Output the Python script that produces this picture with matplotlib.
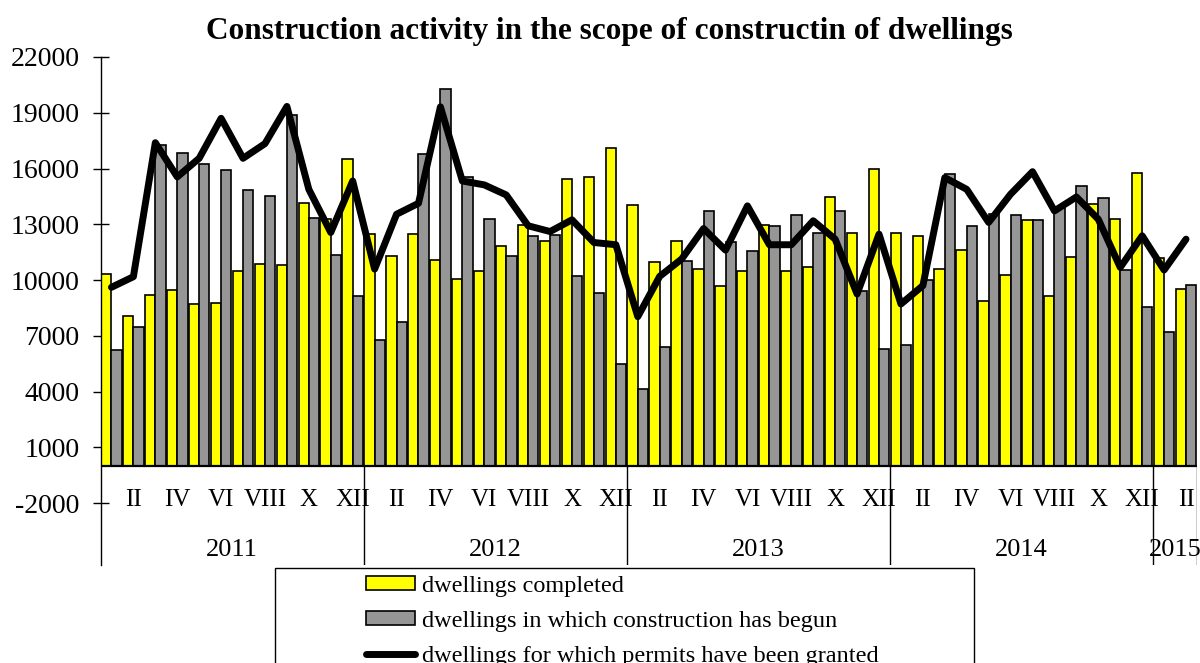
"""
Construction activity - dwellings completed / begun / permits, monthly 2011-2015
"""

import numpy as np
import matplotlib.pyplot as plt
from matplotlib.patches import Patch, Rectangle
from matplotlib.lines import Line2D

# monthly values, Jan 2011 .. Feb 2015
completed = [10300, 8050, 9180, 9460, 8730, 8780, 10500, 10860, 10820, 14150, 13300, 16500,
             12470, 11270, 12470, 11070, 10040, 10470, 11810, 12950, 12110, 15420, 15550, 17090,
             14030, 10950, 12110, 10570, 9660, 10470, 12950, 10470, 10680, 14470, 12520, 15960,
             12520, 12380, 10570, 11630, 8890, 10270, 13220, 9160, 11250, 14080, 13270, 15740,
             11180, 9520]
begun = [6240, 7460, 17250, 16820, 16260, 15900, 14850, 14530, 18870, 13360, 11340, 9120,
         6750, 7760, 16800, 20300, 15550, 13310, 11270, 12380, 12430, 10230, 9300, 5490,
         4150, 6420, 11000, 13720, 12060, 11580, 12920, 13490, 12510, 13720, 9390, 6300,
         6480, 10020, 15690, 12920, 13540, 13510, 13220, 13900, 15060, 14440, 10540, 8530,
         7190, 9730]
permits = [9610, 10180, 17390, 15550, 16550, 18700, 16550, 17340, 19340, 14880, 12560, 15330,
           10590, 13540, 14130, 19320, 15330, 15120, 14580, 12920, 12610, 13240, 12020, 11900,
           8030, 10200, 11130, 12770, 11610, 13990, 11900, 11900, 13190, 12200, 9250, 12470,
           8710, 9700, 15510, 14880, 13100, 14620, 15830, 13720, 14470, 13270, 10680, 12380,
           10540, 12200]

roman = ['I', 'II', 'III', 'IV', 'V', 'VI', 'VII', 'VIII', 'IX', 'X', 'XI', 'XII']
years = ['2011', '2012', '2013', '2014', '2015']
yticks = list(range(-2000, 22001, 3000))

labels = ["dwellings completed",
          "dwellings in which construction has begun",
          "dwellings for which permits have been granted"]

plt.rcParams['font.family'] = ['Liberation Serif', 'DejaVu Serif']
plt.rcParams['axes.unicode_minus'] = False

n = len(completed)
x = np.arange(n)

fig = plt.figure(figsize=(12, 6.63), dpi=100)
ax = fig.add_axes([100.5 / 1200, (663 - 565) / 663, 1096.5 / 1200, (565 - 57) / 663])

bw = 0.47
ax.bar(x + 0.5 - bw / 2, completed, width=bw, color='#FFFF00', edgecolor='black', linewidth=1.2, zorder=2)
ax.bar(x + 0.5 + bw / 2, begun, width=bw, color='#969696', edgecolor='black', linewidth=1.2, zorder=2)
ax.plot(x + 0.5, permits, color='black', linewidth=5, solid_capstyle='round', zorder=3)

ax.axhline(0, color='black', linewidth=1.6, zorder=4)

ax.set_xlim(0, n)
ax.set_ylim(-5330, 22000)
ax.set_yticks(yticks)
ax.set_xticks([])
for sp in ['top', 'right', 'bottom']:
    ax.spines[sp].set_visible(False)
ax.spines['left'].set_linewidth(1)
ax.tick_params(axis='y', direction='inout', length=12, width=1, pad=9, labelsize=20)

# year separators below the axis
seps = [k for k in range(12, n, 12)] + [n]
ax.vlines(seps, -5330, 0, color='black', linewidth=1)

# month labels (every second month) and year labels
for k in range(n):
    m = k % 12
    if m % 2 == 1:
        ax.text(k + 0.5, -1850, roman[m], ha='center', va='center', fontsize=18)
for i, yr in enumerate(years):
    start = i * 12
    end = min(start + 12, n)
    ax.text((start + end) / 2, -4520, yr, ha='center', va='center', fontsize=19)

fig.text(609.5 / 1200, 1 - 31 / 663, "Construction activity in the scope of constructin of dwellings",
         ha='center', va='center', fontsize=22.5, fontweight='bold')

handles = [Patch(facecolor='#FFFF00', edgecolor='black', linewidth=1.2),
           Patch(facecolor='#969696', edgecolor='black', linewidth=1.2),
           Line2D([0], [0], color='black', linewidth=5, solid_capstyle='round')]
fig.legend(handles, labels, loc='upper left', bbox_to_anchor=(366 / 1200, 1 - 576 / 663),
           frameon=False, borderpad=0, borderaxespad=0, handlelength=2.0, handleheight=0.5,
           handletextpad=0.3, labelspacing=0.57, fontsize=17.5)
fig.add_artist(Rectangle((275 / 1200, -0.05), (974 - 275) / 1200, (663 - 568) / 663 + 0.05,
                         transform=fig.transFigure, fill=False, edgecolor='black', linewidth=1))

fig.savefig('out.png', dpi=100)
